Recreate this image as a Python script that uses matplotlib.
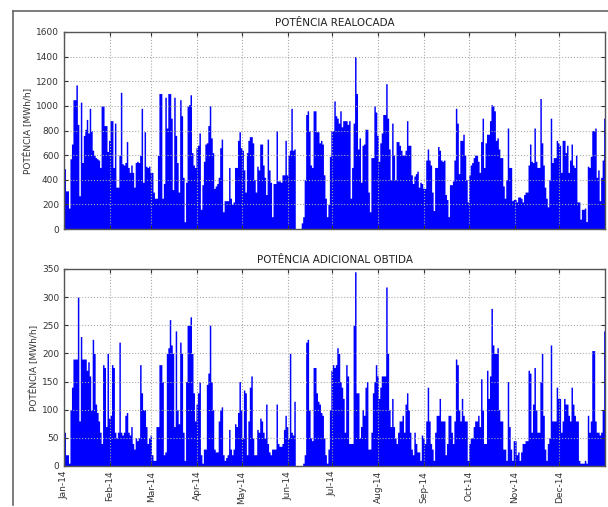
import numpy as np
import pandas as pd
import matplotlib
matplotlib.use("Agg")
import matplotlib.pyplot as plt
import matplotlib.dates as mdates
from matplotlib.lines import Line2D

# daily peak values, one list per month
realocada_jan = [490, 310, 310, 170, 570, 690, 1050, 1050, 1170, 850, 270, 1030, 540, 760, 810, 890,
                 780, 980, 800, 640, 600, 580, 570, 560, 500, 1000, 1000, 840, 840, 630, 720]
realocada_feb = [880, 880, 500, 860, 340, 340, 600, 1110, 530, 520, 540, 710, 500, 460, 520, 460,
                 340, 540, 550, 540, 600, 980, 380, 790, 510, 500, 510, 460]
realocada_mar = [460, 300, 250, 250, 600, 1100, 1100, 250, 370, 1070, 820, 1100, 1100, 900, 320, 1070,
                 760, 540, 300, 1050, 920, 420, 60, 380, 1000, 1010, 1090, 620, 520, 500, 660]
realocada_apr = [680, 780, 160, 360, 550, 690, 700, 840, 1000, 740, 620, 330, 350, 370, 420, 660,
                 730, 140, 230, 230, 230, 500, 250, 200, 220, 500, 500, 720, 790, 660]
realocada_may = [640, 480, 300, 620, 720, 750, 750, 700, 400, 300, 510, 480, 690, 690, 520, 420,
                 280, 730, 480, 380, 100, 370, 370, 800, 390, 390, 380, 440, 440, 720, 440]
realocada_jun = [600, 640, 980, 640, 650, 0, 0, 0, 0, 50, 100, 400, 930, 960, 800, 520,
                 500, 960, 960, 790, 790, 700, 720, 690, 440, 250, 100, 200, 590, 800]
realocada_jul = [800, 1040, 920, 900, 860, 960, 830, 880, 880, 880, 850, 880, 250, 500, 860, 1400,
                 1100, 650, 740, 380, 680, 690, 810, 810, 300, 140, 580, 580, 1000, 950, 760]
realocada_aug = [550, 700, 780, 930, 930, 1180, 900, 650, 400, 860, 600, 400, 710, 710, 680, 640,
                 600, 600, 640, 880, 680, 680, 440, 370, 430, 450, 470, 340, 380, 370, 330]
realocada_sep = [330, 560, 650, 560, 520, 300, 150, 500, 500, 670, 640, 560, 550, 560, 280, 240,
                 100, 360, 360, 390, 560, 980, 860, 450, 720, 720, 770, 600, 400, 220]
realocada_oct = [440, 520, 540, 580, 600, 600, 550, 460, 710, 900, 500, 700, 770, 770, 880, 1010,
                 1000, 960, 720, 740, 650, 580, 580, 350, 250, 400, 820, 500, 500, 230, 240]
realocada_nov = [240, 220, 260, 260, 250, 220, 280, 300, 300, 520, 690, 550, 540, 820, 550, 500,
                 500, 1060, 700, 520, 340, 250, 180, 400, 900, 540, 580, 580, 720, 700]
realocada_dec = [680, 460, 720, 720, 620, 680, 460, 560, 690, 520, 500, 600, 220, 220, 80, 160,
                 160, 170, 60, 510, 500, 590, 800, 800, 820, 420, 480, 230, 420, 560, 900]

adicional_jan = [60, 20, 20, 5, 100, 140, 190, 190, 190, 300, 80, 230, 190, 190, 190, 170,
                 185, 160, 100, 225, 200, 110, 95, 80, 60, 40, 180, 175, 70, 200, 85]
adicional_feb = [90, 180, 175, 60, 50, 60, 220, 60, 55, 60, 90, 95, 60, 55, 70, 40,
                 30, 50, 45, 50, 180, 130, 100, 100, 70, 40, 50, 55]
adicional_mar = [20, 10, 10, 70, 70, 180, 180, 150, 20, 25, 200, 210, 260, 215, 200, 70,
                 240, 100, 75, 220, 200, 60, 10, 150, 250, 250, 265, 200, 130, 80, 110]
adicional_apr = [130, 150, 20, 5, 30, 30, 145, 165, 250, 150, 100, 30, 25, 25, 80, 100,
                 105, 20, 10, 15, 20, 65, 30, 20, 30, 75, 70, 95, 150, 100]
adicional_may = [50, 135, 130, 20, 80, 140, 160, 50, 20, 20, 65, 60, 85, 80, 60, 50,
                 110, 40, 25, 20, 30, 30, 30, 110, 40, 35, 35, 40, 65, 90, 70]
adicional_jun = [50, 200, 60, 55, 115, 0, 0, 0, 0, 0, 5, 20, 220, 225, 100, 50,
                 45, 175, 175, 130, 115, 110, 95, 90, 50, 20, 5, 30, 100, 170]
adicional_jul = [180, 175, 180, 210, 200, 150, 140, 120, 60, 180, 160, 40, 40, 40, 250, 345,
                 130, 130, 50, 70, 100, 90, 140, 150, 30, 30, 60, 130, 150, 180, 160]
adicional_aug = [120, 140, 160, 160, 160, 318, 200, 100, 70, 120, 70, 50, 40, 60, 80, 80,
                 90, 60, 110, 130, 100, 60, 30, 20, 60, 40, 25, 25, 10, 55, 50]
adicional_sep = [40, 80, 140, 80, 40, 30, 10, 60, 90, 90, 120, 80, 80, 80, 20, 40,
                 90, 90, 60, 40, 80, 190, 180, 100, 80, 120, 90, 80, 80, 10]
adicional_oct = [40, 50, 50, 70, 80, 80, 90, 70, 155, 100, 40, 40, 170, 120, 160, 280,
                 215, 200, 200, 210, 100, 80, 80, 30, 30, 10, 150, 70, 30, 10, 45]
adicional_nov = [45, 20, 25, 10, 25, 40, 40, 45, 45, 170, 165, 60, 110, 175, 100, 60,
                 60, 150, 200, 90, 30, 10, 40, 50, 215, 80, 80, 80, 140, 120]
adicional_dec = [120, 60, 80, 120, 110, 110, 90, 80, 140, 110, 90, 80, 80, 10, 5, 5,
                 5, 10, 5, 90, 60, 80, 205, 205, 80, 60, 60, 55, 60, 100, 240]

realocada = np.array(realocada_jan + realocada_feb + realocada_mar + realocada_apr
                     + realocada_may + realocada_jun + realocada_jul + realocada_aug
                     + realocada_sep + realocada_oct + realocada_nov + realocada_dec, dtype=float)
adicional = np.array(adicional_jan + adicional_feb + adicional_mar + adicional_apr
                     + adicional_may + adicional_jun + adicional_jul + adicional_aug
                     + adicional_sep + adicional_oct + adicional_nov + adicional_dec, dtype=float)

days = pd.date_range("2014-01-01", periods=len(realocada) + 1, freq="D")

fig = plt.figure(figsize=(6.08, 5.07), dpi=100)
ax1 = fig.add_axes([0.1053, 0.5483, 0.8898, 0.3886])
ax2 = fig.add_axes([0.1053, 0.0809, 0.8898, 0.3886], sharex=ax1)

panels = [
    (ax1, realocada, "POTÊNCIA REALOCADA", 1600, 200),
    (ax2, adicional, "POTÊNCIA ADICIONAL OBTIDA", 350, 50),
]
for ax, vals, title, ymax, step in panels:
    y = np.append(vals, vals[-1])
    ax.fill_between(days, 0, y, step="post", color="#0000ff", linewidth=0)
    ax.set_ylim(0, ymax)
    ax.set_yticks(np.arange(0, ymax + 1, step))
    ax.set_title(title, fontsize=7.5, color="#222222", pad=4)
    ax.set_ylabel("POTÊNCIA [MWh/h]", fontsize=6.5, color="#333333", labelpad=2)
    ax.grid(True, linestyle=":", color="#aaaaaa", linewidth=0.8)
    ax.tick_params(direction="in", top=True, right=True, labelsize=6.5,
                   colors="#333333", length=3)
    for sp in ax.spines.values():
        sp.set_color("#555555")
        sp.set_linewidth(1.0)

ax2.set_xlim(days[0], days[-1] - pd.Timedelta(hours=1))
ax2.xaxis.set_major_locator(mdates.MonthLocator())
ax2.xaxis.set_major_formatter(mdates.DateFormatter("%b-%y"))
plt.setp(ax2.get_xticklabels(), rotation=90)
plt.setp(ax1.get_xticklabels(), visible=False)

# outer frame of the original screenshot
fig.add_artist(Line2D([13 / 608, 13 / 608], [1 - 11 / 507, 1 - 505 / 507],
                      transform=fig.transFigure, color="#666666", linewidth=1.2))
fig.add_artist(Line2D([13 / 608, 1.0], [1 - 11 / 507, 1 - 11 / 507],
                      transform=fig.transFigure, color="#666666", linewidth=1.2))

fig.savefig("out.png", dpi=100)
